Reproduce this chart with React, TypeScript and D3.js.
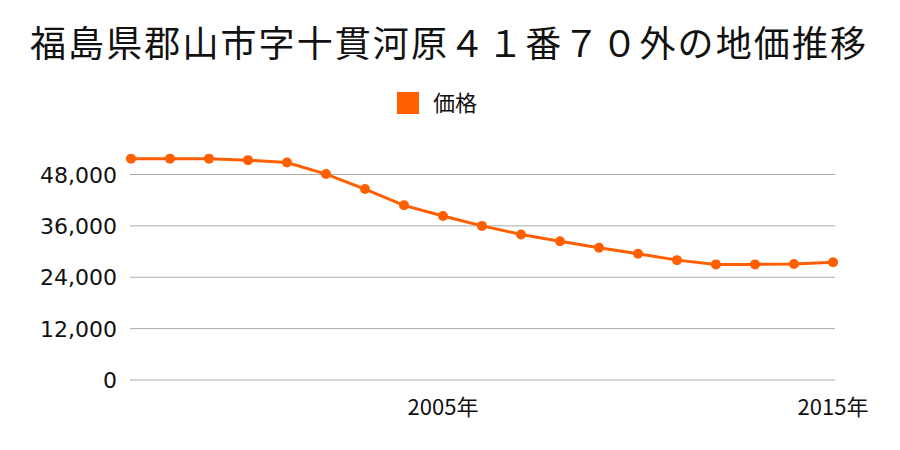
import React from "react";
import * as d3 from "d3";

const years = [1997, 1998, 1999, 2000, 2001, 2002, 2003, 2004, 2005, 2006, 2007, 2008, 2009, 2010, 2011, 2012, 2013, 2014, 2015];
const prices = [51700, 51700, 51700, 51350, 50800, 48100, 44600, 40800, 38300, 36000, 34000, 32400, 30900, 29500, 28000, 27000, 27000, 27100, 27500];
const yTicks = [0, 12000, 24000, 36000, 48000];
const xTickYears = [2005, 2015];
const title = "福島県郡山市字十貫河原４１番７０外の地価推移";
const seriesName = "価格";

const W = 900;
const H = 450;
const FONT = "'Noto Sans CJK JP', 'Noto Sans', sans-serif";
const COLOR = "#ff5f00";

export default function App() {
  const x = d3.scaleLinear().domain([1997, 2015]).range([131, 833]);
  const y = d3.scaleLinear().domain([0, 48000]).range([380, 174.5]);
  const line = d3
    .line<number>()
    .x((_, i) => x(years[i]))
    .y((d) => y(d));
  const fmt = d3.format(",");

  return (
    <svg
      width={W}
      height={H}
      style={{ position: "absolute", left: 0, top: 0, background: "#fff" }}
      fontFamily={FONT}
    >
      <text
        x={448}
        y={57}
        fontSize={36}
        textAnchor="middle"
        textLength={836}
        lengthAdjust="spacing"
        fill="#111"
      >
        {title}
      </text>
      <rect x={397} y={92} width={22} height={22} fill={COLOR} />
      <text x={433} y={111} fontSize={22} fill="#111">
        {seriesName}
      </text>
      {yTicks.map((t) => (
        <g key={t}>
          <line x1={130} x2={835} y1={y(t)} y2={y(t)} stroke="#aaa" strokeWidth={1} />
          <text x={117} y={y(t) + 8} fontSize={22} textAnchor="end" fill="#111" fontFamily="'DejaVu Sans', sans-serif" >
            {fmt(t)}
          </text>
        </g>
      ))}
      {xTickYears.map((yr) => (
        <text key={yr} x={x(yr)} y={415} fontSize={22} textAnchor="middle" fill="#111">
          {yr}年
        </text>
      ))}
      <path d={line(prices) || ""} fill="none" stroke={COLOR} strokeWidth={3} />
      {prices.map((p, i) => (
        <circle key={i} cx={x(years[i])} cy={y(p)} r={5} fill={COLOR} />
      ))}
    </svg>
  );
}
